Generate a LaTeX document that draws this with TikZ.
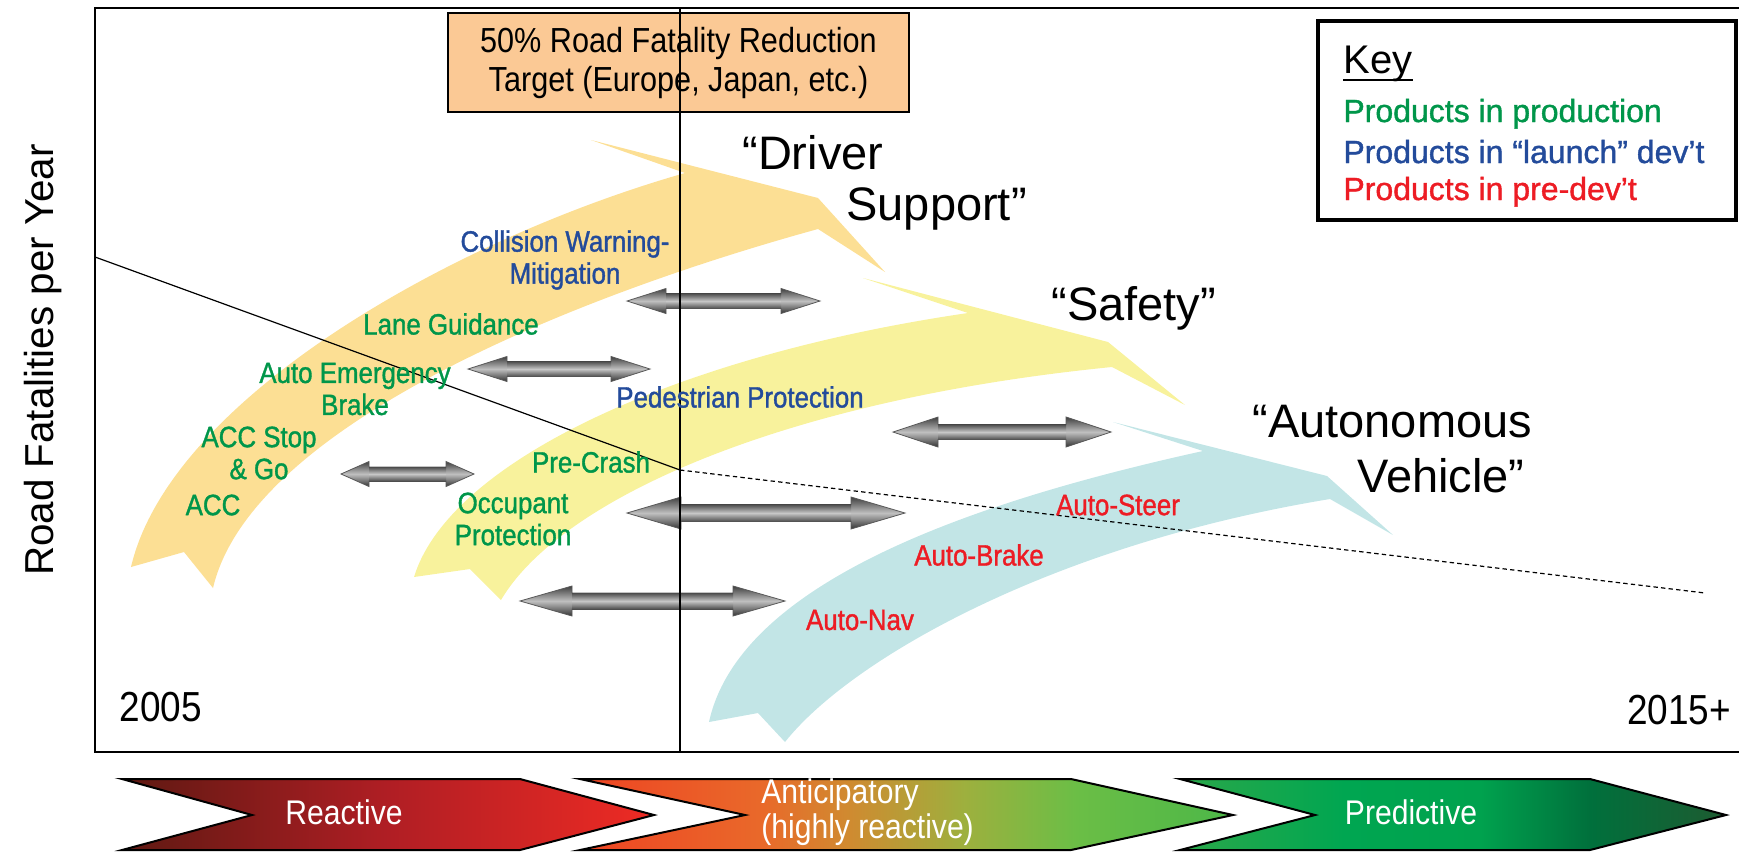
\documentclass[tikz,border=0pt]{standalone}
\usepackage{fontspec}
\setmainfont{Liberation Sans}
\newfontfamily\narrowfont[FakeStretch=0.88]{Liberation Sans}
\newfontfamily\labelfont[FakeStretch=0.88, FakeBold=1.2]{Liberation Sans}
\newfontfamily\keyfont[FakeBold=1.2]{Liberation Sans}

\definecolor{bandorange}{HTML}{FCDF94}
\definecolor{bandyellow}{HTML}{F8F29C}
\definecolor{bandblue}{HTML}{C2E5E6}
\definecolor{boxorange}{HTML}{FBC995}
\definecolor{prodgreen}{HTML}{00964A}
\definecolor{launchblue}{HTML}{234B9B}
\definecolor{predevred}{HTML}{ED1C24}

% phase colours
\definecolor{reactL}{HTML}{5E1912}
\definecolor{reactM}{HTML}{B01E24}
\definecolor{reactR}{HTML}{EE2B24}
\definecolor{anticA}{HTML}{EE4423}
\definecolor{anticB}{HTML}{E9692A}
\definecolor{anticC}{HTML}{D08A30}
\definecolor{anticD}{HTML}{9DB03E}
\definecolor{anticE}{HTML}{6BBE46}
\definecolor{anticF}{HTML}{4CB748}
\definecolor{predA}{HTML}{2BA84A}
\definecolor{predB}{HTML}{00A651}
\definecolor{predC}{HTML}{00A24E}
\definecolor{predD}{HTML}{00703C}
\definecolor{predE}{HTML}{1E5B31}

\pgfdeclarehorizontalshading{reactiveshade}{100bp}{color(0bp)=(reactL); color(25bp)=(reactL); color(50bp)=(reactM); color(75bp)=(reactR); color(100bp)=(reactR)}
\pgfdeclarehorizontalshading{anticshade}{100bp}{color(0bp)=(anticA); color(25bp)=(anticA); color(39bp)=(anticB); color(45.5bp)=(anticC); color(54.5bp)=(anticD); color(63bp)=(anticE); color(75bp)=(anticF); color(100bp)=(anticF)}
\pgfdeclarehorizontalshading{predshade}{100bp}{color(0bp)=(predA); color(25bp)=(predA); color(40bp)=(predB); color(52.5bp)=(predC); color(62.5bp)=(predD); color(75bp)=(predE); color(100bp)=(predE)}

\begin{document}
\begin{tikzpicture}[x=0.5pt, y=-0.5pt,
		product/.style={font=\labelfont\fontsize{14.7}{16}\selectfont, align=center, inner sep=0pt},
		headline/.style={font=\fontsize{23.5}{26}\selectfont, inner sep=0pt, anchor=base west},
		keyline/.style={font=\keyfont\fontsize{16}{18}\selectfont, inner sep=0pt, anchor=base west},
		phase/.style={draw=black, line width=1pt},
		phasetext/.style={text=white, font=\narrowfont\fontsize{17.1}{17.5}\selectfont, inner sep=0pt},
		year/.style={font=\narrowfont\fontsize{21}{24}\selectfont, inner sep=0pt}]

	\useasboundingbox (0,0) rectangle (1739,852);

	% curved bands
	\fill[bandorange] (131,567) .. controls (170,400) and (450,240) .. (685,173) -- (591,140) -- (818,198) -- (885,272) -- (818,229) .. controls (560,300) and (250,430) .. (213,588) -- (184,552) -- cycle;
	\fill[bandyellow] (414,577) .. controls (450,460) and (680,355) .. (968,313) -- (863,278) -- (1108,342) -- (1185,405) -- (1112,367) .. controls (780,400) and (560,500) .. (501,600) -- (470,569) -- cycle;
	\fill[bandblue] (709,722) .. controls (740,580) and (980,500) .. (1203,451) -- (1113,422) -- (1327,476) -- (1393,535) -- (1330,499) .. controls (1050,545) and (850,660) .. (785,742) -- (758,713) -- cycle;

	% fatality trend
	\coordinate (trendstart) at (95,257);
	\coordinate (knee) at (680,470);
	\coordinate (trendend) at (1705,593);
	\draw[line width=0.6pt] (trendstart) -- (knee);
	\draw[line width=0.6pt, dash pattern=on 2.2pt off 1.6pt] (knee) -- (trendend);

	% double arrows
	\foreach \xa/\xb/\ym/\hl/\hh/\sh in {627/820/301/39/12.5/7.5, 468/650/369/39/12.5/7.5, 341/474/474/28/12.5/7, 627/905/513/54/16/8.5, 520/785/601/52/15/8, 893/1111/432/45/15/7.5}
	{
		\shadedraw[top color=black!75, bottom color=black!80, middle color=black!25, draw=black!65, line width=0.4pt]
			(\xa,\ym) -- ({\xa+\hl},{\ym-\hh}) -- ({\xa+\hl},{\ym-\sh}) -- ({\xb-\hl},{\ym-\sh}) -- ({\xb-\hl},{\ym-\hh}) -- (\xb,\ym)
			-- ({\xb-\hl},{\ym+\hh}) -- ({\xb-\hl},{\ym+\sh}) -- ({\xa+\hl},{\ym+\sh}) -- ({\xa+\hl},{\ym+\hh}) -- cycle;
		\shade[top color=black!70, bottom color=black!70, middle color=black!22] ({\xa+\hl},{\ym-\sh}) rectangle ({\xb-\hl},{\ym+\sh});
	}

	% frame
	\draw[line width=1pt] (1739,8) -- (95,8) -- (95,752) -- (1739,752);

	% target box
	\node[draw, line width=0.8pt, fill=boxorange, minimum width=230.5pt, minimum height=49.5pt, align=center, font=\narrowfont\fontsize{17.4}{19.5}\selectfont] (target) at (678.5,62.5) {50\% Road Fatality Reduction\\Target (Europe, Japan, etc.)};

	% divider
	\coordinate (divtop) at (680,8);
	\coordinate (divbottom) at (680,752);
	\draw[line width=0.7pt] (divtop) -- (divbottom);

	% key
	\node[draw, line width=1.6pt, fill=white, minimum width=209pt, minimum height=99.5pt, inner sep=0pt] (keybox) at (1527,120.5) {};
	\node[keyline, font=\fontsize{20}{22}\selectfont] (keytitle) at (1343,73) {Key};
	\draw[line width=1.1pt] ([yshift=-3.5pt]keytitle.base west) -- ([yshift=-3.5pt]keytitle.base east);
	\node[keyline, text=prodgreen] (keyprod) at (1343,122) {Products in production};
	\node[keyline, text=launchblue] (keylaunch) at (1343,163) {Products in “launch” dev’t};
	\node[keyline, text=predevred] (keypre) at (1343,200) {Products in pre-dev’t};

	% band titles
	\node[headline] (driver) at (742,169) {“Driver};
	\node[headline] (support) at (846,220) {Support”};
	\node[headline] (safety) at (1051,320) {“Safety”};
	\node[headline] (autonomous) at (1252,437) {“Autonomous};
	\node[headline] (vehicle) at (1357,492) {Vehicle”};

	% products
	\node[product, text=launchblue] (collision) at (565,260) {Collision Warning-\\Mitigation};
	\node[product, text=prodgreen] (lane) at (451,324) {Lane Guidance};
	\node[product, text=prodgreen] (emergency) at (355,389) {Auto Emergency\\Brake};
	\node[product, text=prodgreen] (stopgo) at (259,453) {ACC Stop\\\& Go};
	\node[product, text=prodgreen] (acc) at (213,505) {ACC};
	\node[product, text=launchblue] (pedestrian) at (740,397) {Pedestrian Protection};
	\node[product, text=prodgreen] (precrash) at (591,462) {Pre-Crash};
	\node[product, text=prodgreen] (occupant) at (513,519) {Occupant\\Protection};
	\node[product, text=predevred] (steer) at (1118,505) {Auto-Steer};
	\node[product, text=predevred] (brake) at (979,555) {Auto-Brake};
	\node[product, text=predevred] (nav) at (860,620) {Auto-Nav};

	% axis
	\node[year] (start) at (161,707) {2005};
	\node[year] (end) at (1679,710) {2015+};
	\node[rotate=90, anchor=base, inner sep=0pt, font=\fontsize{20.2}{24}\selectfont] (yaxis) at (53,360) {Road Fatalities per Year};

	% phases
	\shadedraw[phase, shading=reactiveshade] (122,779) -- (520,779) -- (654,815) -- (520,850) -- (122,850) -- (252,815) -- cycle;
	\shadedraw[phase, shading=anticshade] (580,779) -- (1071,779) -- (1233,815) -- (1071,850) -- (580,850) -- (745,815) -- cycle;
	\shadedraw[phase, shading=predshade] (1180,779) -- (1590,779) -- (1726,815) -- (1590,850) -- (1180,850) -- (1315,815) -- cycle;
	\node[phasetext] (reactive) at (344,812) {Reactive};
	\node[phasetext, align=left, anchor=west] (anticipatory) at (761,812) {Anticipatory\\(highly reactive)};
	\node[phasetext] (predictive) at (1411,812) {Predictive};
\end{tikzpicture}
\end{document}
